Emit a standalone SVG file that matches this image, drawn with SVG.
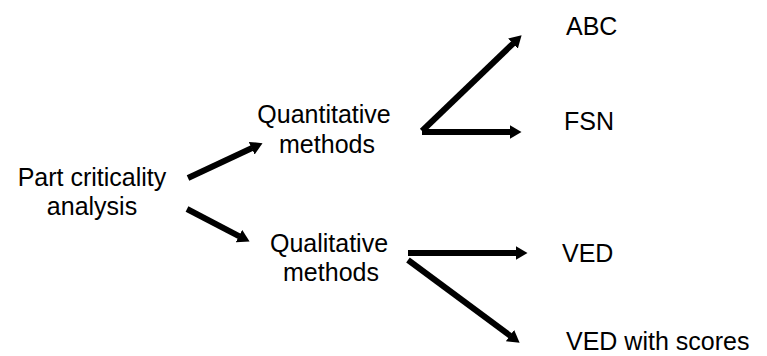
<svg xmlns="http://www.w3.org/2000/svg" width="767" height="356" viewBox="0 0 767 356">
<style>
text{font-family:"Liberation Sans",Arial,sans-serif;font-size:25px;fill:#000}
.c{text-anchor:middle}
.a{stroke:#000;stroke-width:6;fill:none;marker-end:url(#h)}
</style>
<defs>
<marker id="h" markerUnits="userSpaceOnUse" viewBox="0 0 12 14" refX="0.5" refY="7" markerWidth="12" markerHeight="14" orient="auto"><path d="M0,0 L12,7 L0,14 z" fill="#000"/></marker>
</defs>
<rect width="767" height="356" fill="#fff"/>
<g id="connectors">
<path class="a" d="M188,178 L252.1,148"/>
<path class="a" d="M187,209 L239.4,236.3"/>
<path class="a" d="M422,131 L513.3,43.3"/>
<path class="a" d="M422,132 L510,132"/>
<path class="a" d="M408,253 L516,253"/>
<path class="a" d="M408,260 L510.4,335.9"/>
</g>
<g id="part"><text class="c" x="92" y="186">Part criticality</text><text class="c" x="92" y="215">analysis</text></g>
<g id="quant"><text class="c" x="324" y="123">Quantitative</text><text class="c" x="327" y="153">methods</text></g>
<g id="qual"><text class="c" x="329" y="252">Qualitative</text><text class="c" x="331" y="281">methods</text></g>
<g id="abc"><text x="566" y="35">ABC</text></g>
<g id="fsn"><text x="564" y="130">FSN</text></g>
<g id="ved"><text x="562" y="262">VED</text></g>
<g id="vedscores"><text x="566" y="350">VED with scores</text></g>
</svg>
